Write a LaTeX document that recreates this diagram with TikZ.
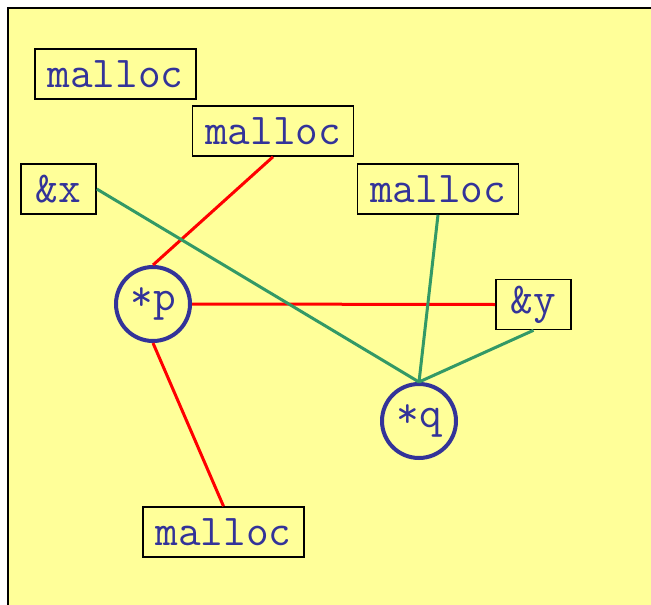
\documentclass[tikz,border=0pt]{standalone}
\usepackage{fontspec}
\definecolor{bg}{HTML}{FFFF99}
\definecolor{txt}{HTML}{333399}
\definecolor{grn}{HTML}{339966}
\begin{document}
\begin{tikzpicture}[x=1pt,y=-1pt,
  lbl/.style={draw=black,line width=1.6pt,fill=bg,inner sep=0pt,minimum height=50pt,
    text=txt,font=\ttfamily\fontsize{44}{46}\selectfont},
  wide/.style={lbl,minimum width=161pt},
  narrow/.style={lbl,minimum width=75pt},
  ptr/.style={circle,draw=txt,line width=4pt,minimum size=74pt,inner sep=0pt,
    text=txt,font=\ttfamily\fontsize{44}{46}\selectfont},
  redl/.style={red,line width=3pt},
  grnl/.style={grn,line width=3pt}]
\useasboundingbox (0,0) rectangle (651,605);
\draw[line width=1.8pt,fill=bg] (8,8) rectangle (670,625);
\node[wide] (m1) at (115.5,74) {malloc};
\node[wide] (m2) at (273,131) {malloc};
\node[narrow] (x) at (58.5,189) {\&x};
\node[wide] (m3) at (438,189) {malloc};
\node[narrow] (y) at (533.5,304.5) {\&y};
\node[wide] (m4) at (223.5,532) {malloc};
\node[ptr] (p) at (153,304) {*p};
\node[ptr] (q) at (419,421) {*q};
\draw[redl] (p.north) -- (m2.south);
\draw[redl] (p.east) -- (y.west);
\draw[redl] (p.south) -- (m4.north);
\draw[grnl] (x.east) -- (q.north);
\draw[grnl] (m3.south) -- (q.north);
\draw[grnl] (y.south) -- (q.north);
\end{tikzpicture}
\end{document}
